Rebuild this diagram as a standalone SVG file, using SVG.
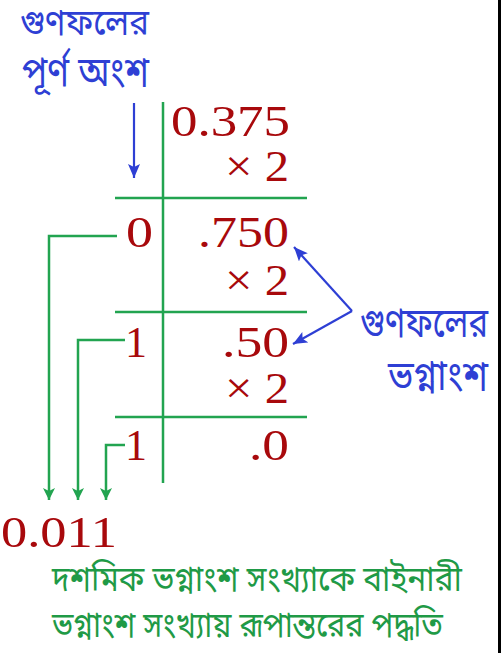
<svg xmlns="http://www.w3.org/2000/svg" width="501" height="653" viewBox="0 0 501 653">
<style>
.num{font-family:"Liberation Serif","DejaVu Serif",serif;font-size:44px;fill:#a8090c}
.bl{font-family:"Noto Sans Bengali","Noto Serif Bengali","Lohit Bengali","Noto Sans",sans-serif;font-size:37px;fill:#2e3fd4}
.bs{font-size:34px}
.gt{font-family:"Noto Sans Bengali","Noto Serif Bengali","Lohit Bengali","Noto Sans",sans-serif;font-size:32px;fill:#1f9a46}
.gl{stroke:#22a450;stroke-width:2.5;fill:none}
.bline{stroke:#2e3fd4;stroke-width:2.2;fill:none}
</style>
<defs>
<marker id="ga" markerUnits="userSpaceOnUse" markerWidth="14" markerHeight="14" refX="12" refY="6" orient="auto">
<path d="M0,0 L12,6 L0,12 L3,6 Z" fill="#22a450"/>
</marker>
<marker id="ba" markerUnits="userSpaceOnUse" markerWidth="16" markerHeight="14" refX="14" refY="6" orient="auto">
<path d="M0,0 L14,6 L0,12 L3,6 Z" fill="#2e3fd4"/>
</marker>
</defs>
<rect width="501" height="653" fill="#ffffff"/>
<rect x="498" y="0" width="3" height="653" fill="#000000"/>
<g id="table">
<line class="gl" x1="163" y1="102" x2="163" y2="483"/>
<line class="gl" x1="115" y1="198" x2="307" y2="198"/>
<line class="gl" x1="115" y1="312" x2="307" y2="312"/>
<line class="gl" x1="115" y1="417" x2="307" y2="417"/>
</g>
<g id="numbers">
<text class="num" x="171" y="136" textLength="119" lengthAdjust="spacingAndGlyphs">0.375</text>
<text class="num" x="225" y="181" textLength="64" lengthAdjust="spacingAndGlyphs">× 2</text>
<text class="num" x="126" y="247" textLength="27" lengthAdjust="spacingAndGlyphs">0</text>
<text class="num" x="198" y="247" textLength="91" lengthAdjust="spacingAndGlyphs">.750</text>
<text class="num" x="225" y="295" textLength="64" lengthAdjust="spacingAndGlyphs">× 2</text>
<text class="num" x="125" y="357">1</text>
<text class="num" x="222" y="357" textLength="67" lengthAdjust="spacingAndGlyphs">.50</text>
<text class="num" x="225" y="403" textLength="64" lengthAdjust="spacingAndGlyphs">× 2</text>
<text class="num" x="125" y="460">1</text>
<text class="num" x="249" y="460" textLength="40" lengthAdjust="spacingAndGlyphs">.0</text>
<text class="num" x="1" y="547" textLength="116" lengthAdjust="spacingAndGlyphs">0.011</text>
</g>
<g id="label-integer">
<text class="bl bs" transform="translate(20,35) scale(1,1.1)" x="0" y="0" textLength="129" lengthAdjust="spacingAndGlyphs">গুণফলের</text>
<text class="bl" transform="translate(22,86) scale(1,1.12)" x="0" y="0" textLength="127" lengthAdjust="spacingAndGlyphs">পূর্ণ অংশ</text>
</g>
<g id="label-fraction">
<text class="bl bs" transform="translate(360,337) scale(1,1.22)" x="0" y="0" textLength="128" lengthAdjust="spacingAndGlyphs">গুণফলের</text>
<text class="bl" transform="translate(388,390) scale(1,1.12)" x="0" y="0" textLength="100" lengthAdjust="spacingAndGlyphs">ভগ্নাংশ</text>
</g>
<g id="caption">
<text class="gt" transform="translate(52,591) scale(1,1.1)" x="0" y="0" textLength="410" lengthAdjust="spacingAndGlyphs">দশমিক ভগ্নাংশ সংখ্যাকে বাইনারী</text>
<text class="gt" transform="translate(52,637) scale(1,1.1)" x="0" y="0" textLength="391" lengthAdjust="spacingAndGlyphs">ভগ্নাংশ সংখ্যায় রূপান্তরের পদ্ধতি</text>
</g>
<g id="connectors">
<line class="bline" x1="134" y1="103" x2="134" y2="178" marker-end="url(#ba)"/>
<polyline class="bline" points="352,311 294,247" marker-end="url(#ba)"/>
<polyline class="bline" points="352,311 293,344" marker-end="url(#ba)"/>
<polyline class="gl" points="117,236 49,236 49,500" marker-end="url(#ga)"/>
<polyline class="gl" points="125,340 78,340 78,500" marker-end="url(#ga)"/>
<polyline class="gl" points="125,445 106,445 106,500" marker-end="url(#ga)"/>
</g>
</svg>
